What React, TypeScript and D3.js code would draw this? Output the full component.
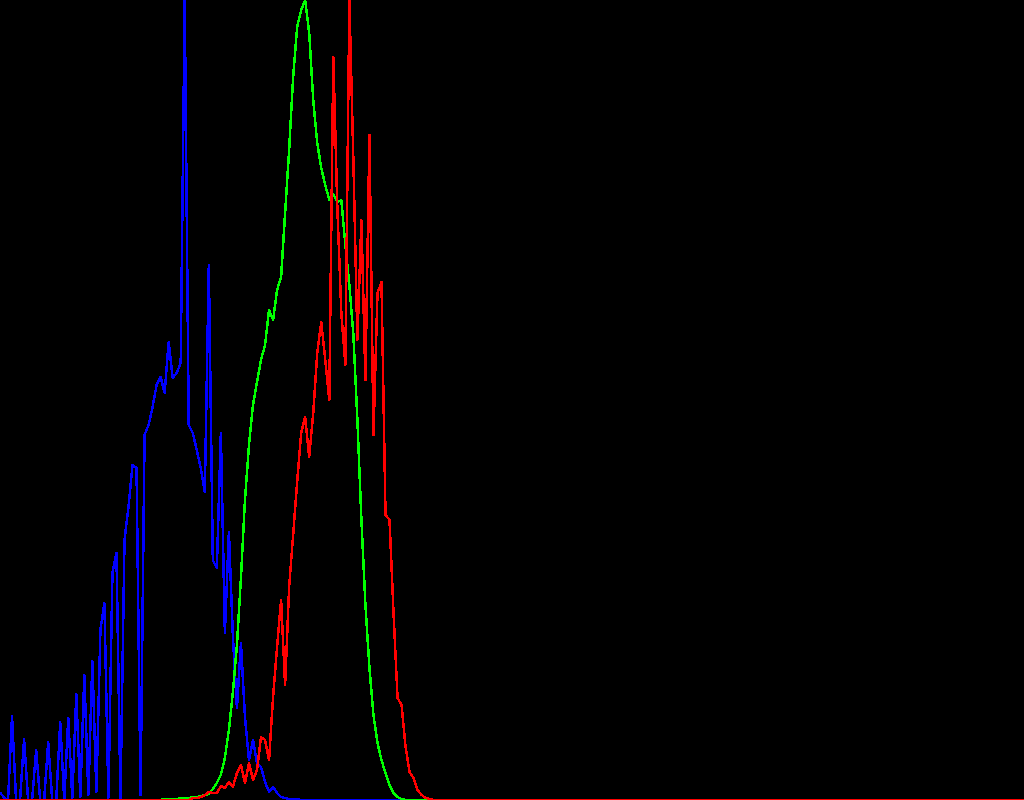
import React from 'react';
import * as d3 from 'd3';

const width = 1024;
const height = 800;
const binCount = 256;

// per-channel histogram counts, listed from the first non-empty bin; every other bin is empty
const blueStart = 0;
const blueCounts = [
	8, 2, 0, 84, 0, 0, 61, 0, 0, 50, 0, 0, 58, 0, 0, 78, 0, 82, 2, 106,
	3, 125, 5, 139, 8, 170, 197, 2, 227, 247, 2, 260, 293, 335, 332, 5, 365, 375, 393, 415,
	423, 407, 458, 422, 427, 437, 800, 375, 367, 350, 332, 308, 535, 240, 232, 367, 167, 268, 163, 92,
	157, 83, 40, 60, 37, 33, 18, 8, 13, 7, 3, 2, 1, 1, 1
];

const greenStart = 41;
const greenCounts = [
	1, 1, 1, 1, 2, 2, 2, 3, 3, 4, 5, 6, 11, 17, 25, 42, 70, 108, 155, 222,
	300, 355, 395, 418, 440, 455, 490, 480, 510, 523, 587, 650, 723, 773, 790, 800, 767, 700, 657, 632,
	615, 600, 606, 598, 600, 555, 515, 465, 380, 280, 195, 132, 85, 57, 40, 27, 15, 7, 3, 1
];

const redStart = 48;
const redCounts = [
	2, 2, 3, 5, 8, 7, 7, 14, 12, 18, 13, 27, 35, 17, 37, 20, 30, 63, 60, 40,
	103, 153, 200, 115, 213, 265, 318, 367, 383, 343, 387, 447, 478, 440, 400, 743, 593, 487, 435, 800,
	640, 460, 580, 420, 665, 365, 507, 518, 285, 280, 187, 102, 95, 53, 28, 22, 10, 5, 2, 1
];

const channels = [
	{ name: 'blue', color: '#0000ff', start: blueStart, counts: blueCounts },
	{ name: 'green', color: '#00ff00', start: greenStart, counts: greenCounts },
	{ name: 'red', color: '#ff0000', start: redStart, counts: redCounts }
];

// spread the listed counts over all 256 bins
function toBins(start: number, counts: number[]) {
	const bins: number[] = new Array(binCount).fill(0);
	counts.forEach((c, i) => {
		bins[start + i] = c;
	});
	return bins;
}

const xScale = d3.scaleLinear().domain([0, binCount - 1]).range([0, width]);

export default function App() {
	return (
		<svg
			width={width}
			height={height}
			style={{ position: 'fixed', left: 0, top: 0, display: 'block' }}
		>
			<rect width={width} height={height} fill="#000" />
			{channels.map((ch) => {
				const bins = toBins(ch.start, ch.counts);
				// each channel is scaled to its own peak
				const yScale = d3.scaleLinear().domain([0, d3.max(bins) as number]).range([height, 0]);
				const line = d3
					.line<number>()
					.x((_, i) => xScale(i))
					.y((d) => yScale(d));
				return (
					<path
						key={ch.name}
						d={line(bins) || ''}
						fill="none"
						stroke={ch.color}
						strokeWidth={2.5}
						strokeLinejoin="round"
						shapeRendering="crispEdges"
					/>
				);
			})}
		</svg>
	);
}
